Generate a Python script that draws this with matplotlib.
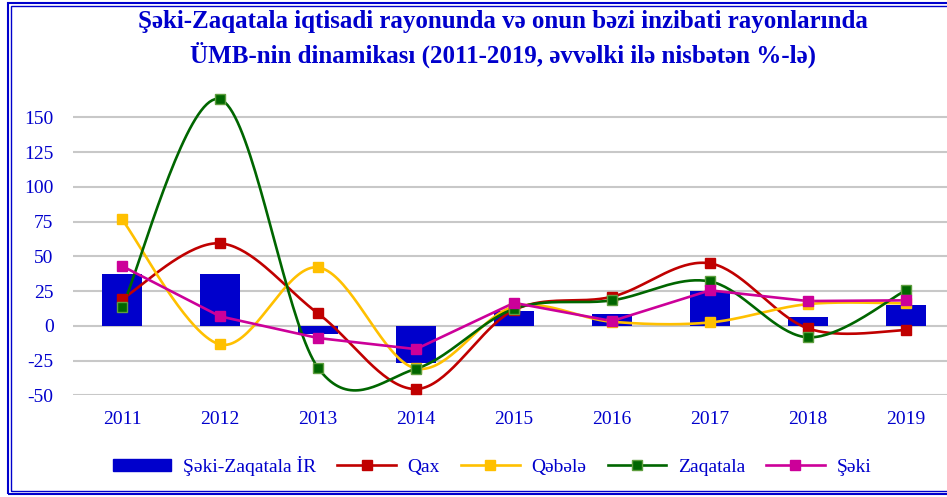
import numpy as np
import matplotlib
matplotlib.use('Agg')
import matplotlib.pyplot as plt
from matplotlib.lines import Line2D
from matplotlib.patches import Rectangle

years = ['2011', '2012', '2013', '2014', '2015', '2016', '2017', '2018', '2019']
region_ir = [37.4, 37.0, -6.0, -26.6, 10.4, 8.4, 25.2, 6.3, 14.7]
qax = [19.2, 59.3, 8.9, -45.5, 11.3, 20.9, 44.9, -1.9, -3.1]
qebele = [76.5, -13.4, 42.0, -30.7, 13.7, 2.9, 2.4, 15.6, 16.1]
zaqatala = [13.2, 162.9, -30.2, -30.9, 12.2, 18.3, 31.9, -8.3, 25.5]
seki = [43.0, 6.8, -8.8, -16.8, 16.5, 3.4, 25.5, 17.8, 18.3]

blue = '#0000CC'
plt.rcParams['font.family'] = ['Liberation Serif', 'DejaVu Serif']
plt.rcParams['axes.unicode_minus'] = False


def smooth(xs, ys, n=40):
    # catmull-rom, like excel's "smoothed line"
    p = np.column_stack([xs, ys]).astype(float)
    p = np.vstack([p[0], p, p[-1]])
    out = []
    for i in range(1, len(p) - 2):
        p0, p1, p2, p3 = p[i - 1], p[i], p[i + 1], p[i + 2]
        m1 = (p2 - p0) / 2
        m2 = (p3 - p1) / 2
        t = np.linspace(0, 1, n)[:, None]
        h00 = 2 * t**3 - 3 * t**2 + 1
        h10 = t**3 - 2 * t**2 + t
        h01 = -2 * t**3 + 3 * t**2
        h11 = t**3 - t**2
        out.append(h00 * p1 + h10 * m1 + h01 * p2 + h11 * m2)
    c = np.vstack(out)
    return c[:, 0], c[:, 1]


fig = plt.figure(figsize=(9.47, 4.97), dpi=100)
ax = fig.add_axes([73 / 947, 1 - 395.3 / 497, 882 / 947, (395.3 - 82.5) / 497])

x = np.arange(len(years))
ax.bar(x, region_ir, width=0.4, color=blue, zorder=2)

series = [
    (qax, '#C00000', '#C00000', True),
    (qebele, '#FFC000', '#FFC000', True),
    (zaqatala, '#006600', '#5E9E3E', True),
    (seki, '#CC0099', '#CC0099', False),
]
handles = [Rectangle((0, 0), 1, 1, color=blue)]
for ys, col, edge, sm in series:
    if sm:
        sx, sy = smooth(x, ys)
    else:
        sx, sy = x, ys
    ax.plot(sx, sy, color=col, lw=1.9, zorder=3, solid_capstyle='round')
    ax.plot(x, ys, ls='none', marker='s', markersize=6.5, color=col,
            markeredgecolor=edge, markeredgewidth=1, zorder=4)
    handles.append(Line2D([], [], color=col, lw=1.9, marker='s', markersize=6.5,
                          markeredgecolor=edge))

ax.set_xlim(-0.5, 8.5)
ax.set_ylim(-50, 175)
ax.set_yticks(np.arange(-50, 151, 25))
ax.set_xticks(x)
ax.set_xticklabels(years)
ax.grid(axis='y', color='#C8C8C8', lw=1.5, zorder=0)
ax.set_axisbelow(True)
for s in ax.spines.values():
    s.set_visible(False)
ax.tick_params(axis='y', length=0, pad=14, labelsize=14, labelcolor=blue)
ax.tick_params(axis='x', length=0, pad=11, labelsize=14, labelcolor=blue)

fig.text(503 / 947, 1 - 39 / 497,
         'Şəki-Zaqatala iqtisadi rayonunda və onun bəzi inzibati rayonlarında\n'
         'ÜMB-nin dinamikası (2011-2019, əvvəlki ilə nisbətən %-lə)',
         ha='center', va='center', fontsize=18, fontweight='bold',
         color=blue, linespacing=1.4)

labels = ['Şəki-Zaqatala İR', 'Qax', 'Qəbələ', 'Zaqatala', 'Şəki']
fig.legend(handles, labels, loc='center', bbox_to_anchor=(492 / 947, 1 - 466 / 497),
           ncol=5, frameon=False, fontsize=14, labelcolor=blue,
           handlelength=3.0, handleheight=0.6, handletextpad=0.6, columnspacing=1.1)

# double blue frame
for off, lw in [(0, 1.5), (3, 1.0)]:
    fig.patches.append(Rectangle((8 + off, 3 + off), 980, 491 - 2 * off,
                                 transform=None, fill=False, edgecolor=blue, lw=lw))

fig.savefig('out.png', dpi=100)
